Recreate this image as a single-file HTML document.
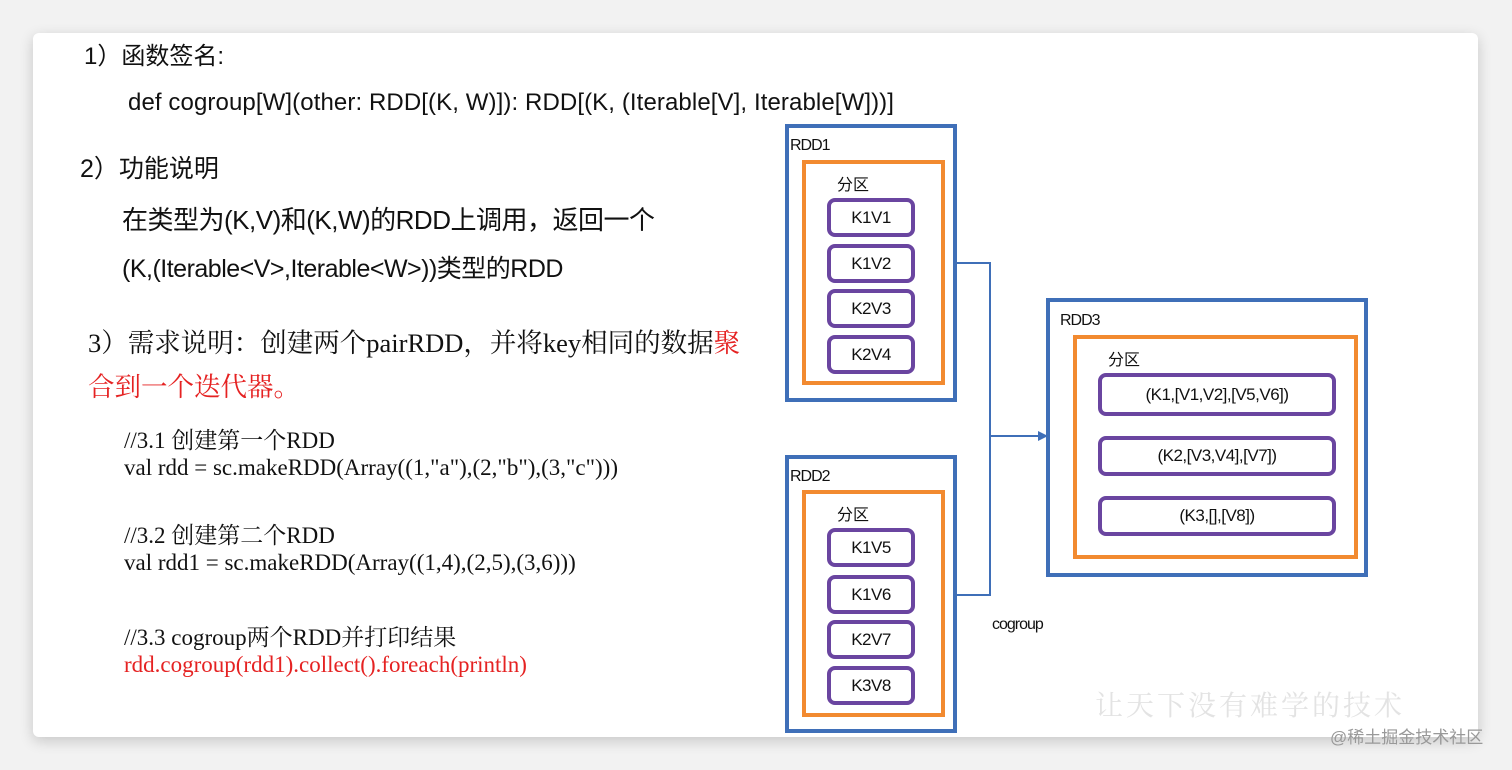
<!DOCTYPE html>
<html><head><meta charset="utf-8"><style>
body{margin:0;width:1512px;height:770px;background:#f2f2f2;position:relative;overflow:hidden;font-family:"Liberation Sans","Noto Sans CJK SC",sans-serif;color:#111}
.card{position:absolute;left:33px;top:33px;width:1445px;height:704px;background:#fff;border-radius:6px;box-shadow:0 4px 14px rgba(0,0,0,.18)}
.t{position:absolute;white-space:nowrap;line-height:1}
.s{font-family:"Liberation Serif","Noto Serif CJK SC",serif;font-size:23px}
.b{position:absolute;box-sizing:border-box}
.blue{border:4px solid #3f6fb8}
.or{border:4px solid #f28a30}
.pu{border:4px solid #6a45a0;border-radius:8px;display:flex;align-items:center;justify-content:center;font-size:17px;letter-spacing:-0.5px}
.lab{position:absolute;font-size:16px;letter-spacing:-1px}
</style></head><body>
<div class="card"></div>
<div class="t" style="left:84px;top:45px;font-size:24px">1）函数签名:</div>
<div class="t" style="left:128px;top:91px;font-size:24px;letter-spacing:0.1px">def cogroup[W](other: RDD[(K, W)]): RDD[(K, (Iterable[V], Iterable[W]))]</div>
<div class="t" style="left:80px;top:157px;font-size:25px">2）功能说明</div>
<div class="t" style="left:122px;top:207px;font-size:26px;letter-spacing:-0.5px">在类型为(K,V)和(K,W)的RDD上调用，返回一个</div>
<div class="t" style="left:122px;top:257px;font-size:25px;letter-spacing:-0.5px">(K,(Iterable&lt;V&gt;,Iterable&lt;W&gt;))类型的RDD</div>
<div class="t" style="left:88px;top:330px;font-size:26.5px;font-family:'Liberation Serif','Noto Serif CJK SC',serif">3）需求说明：创建两个pairRDD，并将key相同的数据<span style="color:#e52222">聚</span></div>
<div class="t" style="left:88px;top:374px;font-size:26.5px;color:#e52222;font-family:'Liberation Serif','Noto Serif CJK SC',serif">合到一个迭代器。</div>
<div class="t s" style="left:124px;top:429px">//3.1 创建第一个RDD</div>
<div class="t s" style="left:124px;top:456px">val rdd = sc.makeRDD(Array((1,"a"),(2,"b"),(3,"c")))</div>
<div class="t s" style="left:124px;top:524px">//3.2 创建第二个RDD</div>
<div class="t s" style="left:124px;top:551px">val rdd1 = sc.makeRDD(Array((1,4),(2,5),(3,6)))</div>
<div class="t s" style="left:124px;top:626px">//3.3 cogroup两个RDD并打印结果</div>
<div class="t s" style="left:124px;top:653px;color:#e52222">rdd.cogroup(rdd1).collect().foreach(println)</div>

<div class="b blue" style="left:785px;top:124px;width:172px;height:278px"></div>
<div class="lab" style="left:790px;top:137px">RDD1</div>
<div class="b or" style="left:802px;top:160px;width:143px;height:225px"></div>
<div class="lab" style="left:837px;top:171px;letter-spacing:0">分区</div>
<div class="b pu" style="left:827px;top:198px;width:88px;height:39px">K1V1</div>
<div class="b pu" style="left:827px;top:244px;width:88px;height:39px">K1V2</div>
<div class="b pu" style="left:827px;top:289px;width:88px;height:39px">K2V3</div>
<div class="b pu" style="left:827px;top:335px;width:88px;height:39px">K2V4</div>

<div class="b blue" style="left:785px;top:455px;width:172px;height:278px"></div>
<div class="lab" style="left:790px;top:468px">RDD2</div>
<div class="b or" style="left:802px;top:490px;width:143px;height:227px"></div>
<div class="lab" style="left:837px;top:501px;letter-spacing:0">分区</div>
<div class="b pu" style="left:827px;top:528px;width:88px;height:39px">K1V5</div>
<div class="b pu" style="left:827px;top:575px;width:88px;height:39px">K1V6</div>
<div class="b pu" style="left:827px;top:620px;width:88px;height:39px">K2V7</div>
<div class="b pu" style="left:827px;top:666px;width:88px;height:39px">K3V8</div>

<div class="b blue" style="left:1046px;top:298px;width:322px;height:279px"></div>
<div class="lab" style="left:1060px;top:312px">RDD3</div>
<div class="b or" style="left:1073px;top:335px;width:285px;height:224px"></div>
<div class="lab" style="left:1108px;top:346px;letter-spacing:0">分区</div>
<div class="b pu" style="left:1098px;top:373px;width:238px;height:43px">(K1,[V1,V2],[V5,V6])</div>
<div class="b pu" style="left:1098px;top:436px;width:238px;height:40px">(K2,[V3,V4],[V7])</div>
<div class="b pu" style="left:1098px;top:496px;width:238px;height:40px">(K3,[],[V8])</div>

<svg style="position:absolute;left:0;top:0" width="1512" height="770">
<path d="M957 263 H990 V595 H957 M990 436 H1040" fill="none" stroke="#3f6fb8" stroke-width="2"/>
<path d="M1048 436 L1038 431 L1038 441 Z" fill="#3f6fb8"/>
</svg>
<div class="lab" style="left:992px;top:616px">cogroup</div>
<div class="t" style="left:1095px;top:690px;font-size:28px;color:#e3e3e3;letter-spacing:3px;font-family:'Noto Serif CJK SC',serif">让天下没有难学的技术</div>
<div class="t" style="left:1330px;top:729px;font-size:17px;color:#999">@稀土掘金技术社区</div>
</body></html>
